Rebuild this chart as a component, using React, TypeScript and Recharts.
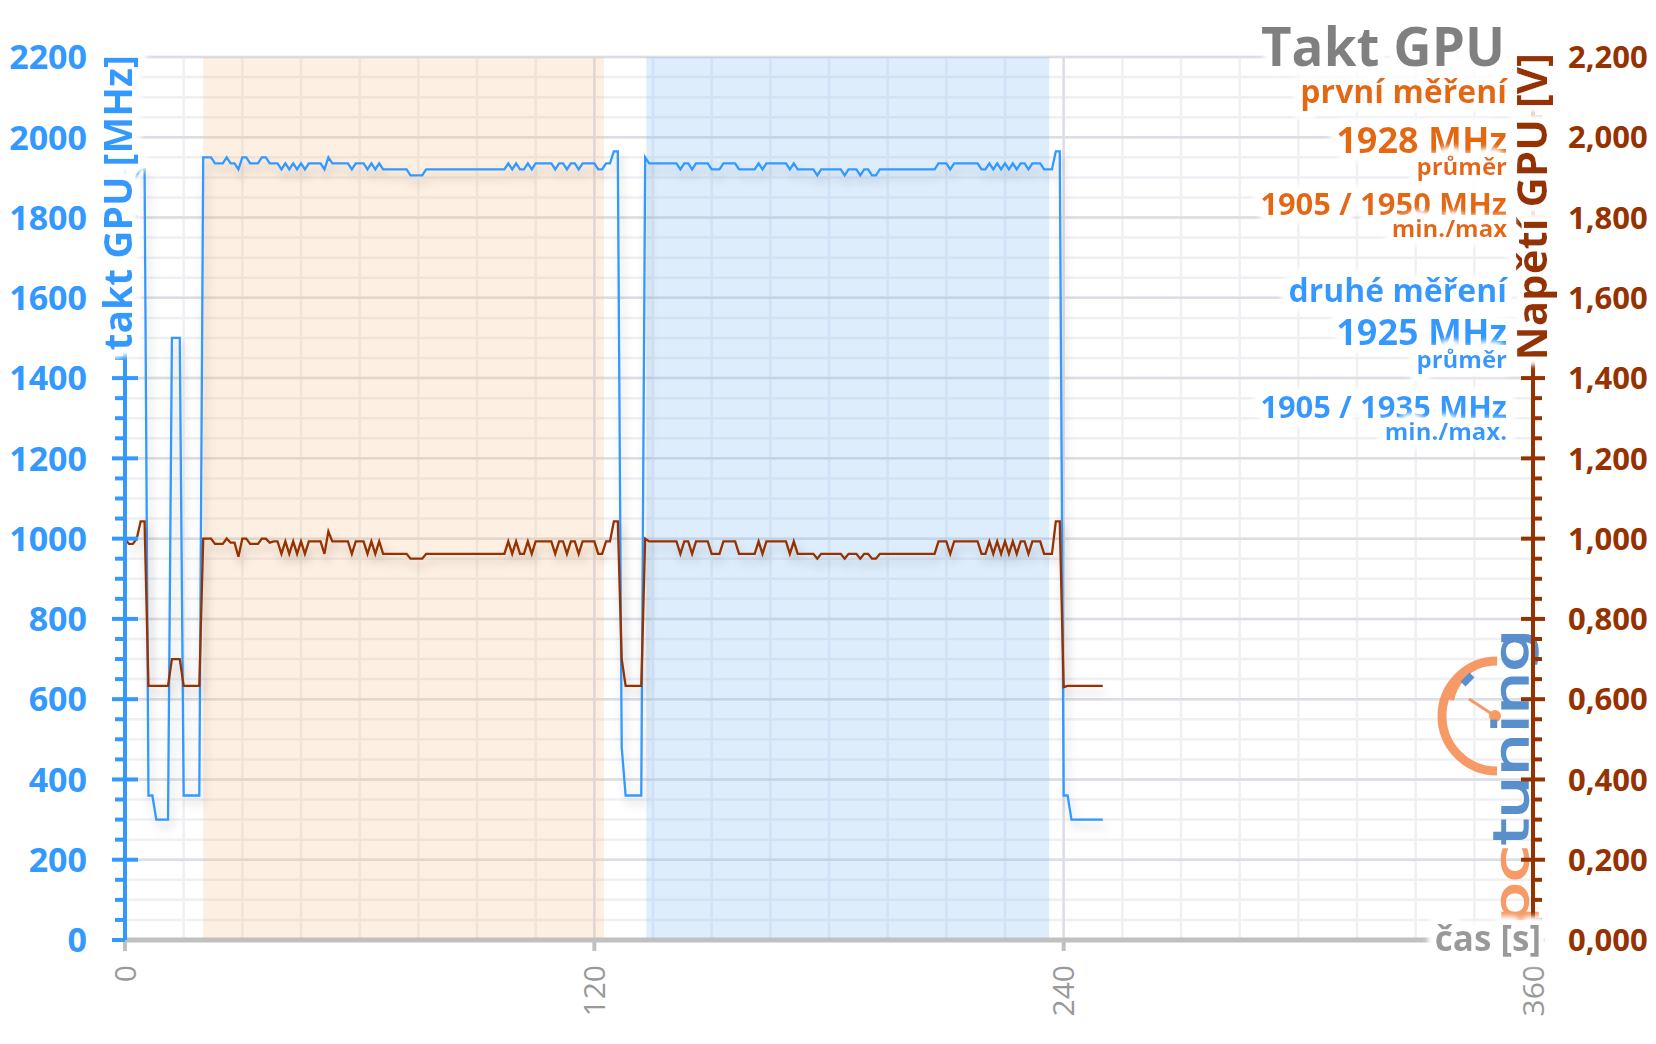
import React from 'react';
import { LineChart, Line, XAxis, YAxis, CartesianGrid, ReferenceArea } from 'recharts';

// ---------- data ----------
// GPU clock [MHz], one sample per second
const clockMHz: number[] = [
  1905, 1875, 1875, 1905, 1920, 1920, 360, 360, 300, 300,
  300, 300, 1500, 1500, 1500, 360, 360, 360, 360, 360,
  1950, 1950, 1950, 1935, 1935, 1935, 1950, 1935, 1935, 1920,
  1950, 1950, 1935, 1935, 1935, 1950, 1950, 1935, 1935, 1935,
  1920, 1935, 1920, 1935, 1920, 1935, 1920, 1935, 1935, 1935,
  1935, 1920, 1950, 1935, 1935, 1935, 1935, 1935, 1920, 1935,
  1935, 1935, 1920, 1935, 1920, 1935, 1920, 1920, 1920, 1920,
  1920, 1920, 1920, 1905, 1905, 1905, 1905, 1920, 1920, 1920,
  1920, 1920, 1920, 1920, 1920, 1920, 1920, 1920, 1920, 1920,
  1920, 1920, 1920, 1920, 1920, 1920, 1920, 1920, 1935, 1920,
  1935, 1920, 1920, 1935, 1920, 1935, 1935, 1935, 1935, 1935,
  1920, 1935, 1935, 1920, 1935, 1935, 1920, 1935, 1935, 1935,
  1935, 1920, 1920, 1935, 1935, 1965, 1965, 480, 360, 360,
  360, 360, 360, 1950, 1935, 1935, 1935, 1935, 1935, 1935,
  1935, 1935, 1920, 1935, 1935, 1920, 1935, 1935, 1935, 1935,
  1920, 1920, 1920, 1935, 1935, 1935, 1935, 1920, 1920, 1920,
  1920, 1920, 1935, 1920, 1935, 1935, 1935, 1935, 1935, 1935,
  1920, 1935, 1920, 1920, 1920, 1920, 1920, 1905, 1920, 1920,
  1920, 1920, 1920, 1920, 1905, 1920, 1920, 1920, 1905, 1920,
  1920, 1905, 1905, 1920, 1920, 1920, 1920, 1920, 1920, 1920,
  1920, 1920, 1920, 1920, 1920, 1920, 1920, 1920, 1935, 1935,
  1935, 1920, 1935, 1935, 1935, 1935, 1935, 1935, 1935, 1920,
  1920, 1935, 1920, 1935, 1920, 1935, 1920, 1935, 1920, 1935,
  1935, 1920, 1935, 1935, 1935, 1920, 1920, 1920, 1965, 1965,
  360, 360, 300, 300, 300, 300, 300, 300, 300, 300,
  300,
];

// GPU voltage [V], one sample per second
const voltageV: number[] = [
  1.000, 0.987, 0.987, 1.000, 1.043, 1.043, 0.633, 0.633, 0.633, 0.633,
  0.633, 0.633, 0.700, 0.700, 0.700, 0.633, 0.633, 0.633, 0.633, 0.633,
  1.000, 1.000, 1.000, 0.987, 0.987, 0.987, 1.000, 0.990, 0.990, 0.955,
  1.000, 1.000, 0.987, 0.987, 0.987, 1.000, 1.000, 0.990, 0.993, 0.993,
  0.962, 0.993, 0.962, 0.993, 0.962, 0.993, 0.962, 0.993, 0.993, 0.993,
  0.993, 0.962, 1.018, 0.993, 0.993, 0.993, 0.993, 0.993, 0.962, 0.993,
  0.993, 0.993, 0.962, 0.993, 0.962, 0.993, 0.962, 0.962, 0.962, 0.962,
  0.962, 0.962, 0.962, 0.950, 0.950, 0.950, 0.950, 0.962, 0.962, 0.962,
  0.962, 0.962, 0.962, 0.962, 0.962, 0.962, 0.962, 0.962, 0.962, 0.962,
  0.962, 0.962, 0.962, 0.962, 0.962, 0.962, 0.962, 0.962, 0.993, 0.962,
  0.993, 0.962, 0.962, 0.993, 0.962, 0.993, 0.993, 0.993, 0.993, 0.993,
  0.962, 0.993, 0.993, 0.962, 0.993, 0.993, 0.962, 0.993, 0.993, 0.993,
  0.993, 0.962, 0.962, 0.993, 0.993, 1.043, 1.043, 0.700, 0.633, 0.633,
  0.633, 0.633, 0.633, 1.000, 0.993, 0.993, 0.993, 0.993, 0.993, 0.993,
  0.993, 0.993, 0.962, 0.993, 0.993, 0.962, 0.993, 0.993, 0.993, 0.993,
  0.962, 0.962, 0.962, 0.993, 0.993, 0.993, 0.993, 0.962, 0.962, 0.962,
  0.962, 0.962, 0.993, 0.962, 0.993, 0.993, 0.993, 0.993, 0.993, 0.993,
  0.962, 0.993, 0.962, 0.962, 0.962, 0.962, 0.962, 0.950, 0.962, 0.962,
  0.962, 0.962, 0.962, 0.962, 0.950, 0.962, 0.962, 0.962, 0.950, 0.962,
  0.962, 0.950, 0.950, 0.962, 0.962, 0.962, 0.962, 0.962, 0.962, 0.962,
  0.962, 0.962, 0.962, 0.962, 0.962, 0.962, 0.962, 0.962, 0.993, 0.993,
  0.993, 0.962, 0.993, 0.993, 0.993, 0.993, 0.993, 0.993, 0.993, 0.962,
  0.962, 0.993, 0.962, 0.993, 0.962, 0.993, 0.962, 0.993, 0.962, 0.993,
  0.993, 0.962, 0.993, 0.993, 0.993, 0.962, 0.962, 0.962, 1.043, 1.043,
  0.630, 0.633, 0.633, 0.633, 0.633, 0.633, 0.633, 0.633, 0.633, 0.633,
  0.633,
];

// time [s] of each sample (1 s sampling)
const seconds: number[] = clockMHz.map((_, i) => i);

// measurement windows [s]
const firstRun: [number, number] = [20, 122.5];
const secondRun: [number, number] = [133.3, 236.3];

// axes
const timeTicks = [0, 15, 30, 45, 60, 75, 90, 105, 120, 135, 150, 165, 180, 195, 210, 225, 240, 255, 270, 285, 300, 315, 330, 345, 360];
const timeMajor = [0, 120, 240, 360];
const clockTicks = [0, 50, 100, 150, 200, 250, 300, 350, 400, 450, 500, 550, 600, 650, 700, 750, 800, 850, 900, 950, 1000, 1050, 1100, 1150, 1200, 1250, 1300, 1350, 1400, 1450, 1500, 1550, 1600, 1650, 1700, 1750, 1800, 1850, 1900, 1950, 2000, 2050, 2100, 2150, 2200];
const clockMajor = [0, 200, 400, 600, 800, 1000, 1200, 1400, 1600, 1800, 2000, 2200];
const voltTicks = clockTicks.map((c) => c / 1000);
const voltMajor = clockMajor.map((c) => c / 1000);

const data = seconds.map((t, i) => ({ t, mhz: clockMHz[i], v: voltageV[i] }));

// ---------- style ----------
const FONT = "'Open Sans', 'DejaVu Sans', sans-serif";
const BLUE = '#3399ff';
const BROWN = '#963200';
const ORANGE = '#e5680b';
const GREY = '#999999';

const isMajorClock = (v: number) => clockMajor.includes(v);
const isMajorVolt = (v: number) => voltMajor.some((m) => Math.abs(m - v) < 1e-6);

const LeftTick = (props: any) => {
  const { x, y, payload } = props;
  const v = payload.value as number;
  const major = isMajorClock(v);
  return (
    <g>
      <line x1={x - (major ? 13 : 10)} x2={x + (major && v !== 0 ? 13 : 0)} y1={y} y2={y} stroke={BLUE} strokeWidth={4} />
      {major && (
        <text x={x - 38} y={y} dy="0.36em" textAnchor="end" fill={BLUE} fontSize={34} fontWeight="bold" fontFamily={FONT}>
          {v}
        </text>
      )}
    </g>
  );
};

const RightTick = (props: any) => {
  const { x, y, payload } = props;
  const v = payload.value as number;
  const major = isMajorVolt(v);
  return (
    <g>
      <line x1={x - (major && v !== 0 ? 12 : 0)} x2={x + (major ? 12 : 9)} y1={y} y2={y} stroke={BROWN} strokeWidth={4} />
      {major && (
        <text x={x + 35} y={y} dy="0.36em" textAnchor="start" fill={BROWN} fontSize={31} fontWeight="bold" fontFamily={FONT}>
          {v.toFixed(3).replace('.', ',')}
        </text>
      )}
    </g>
  );
};

const BottomTick = (props: any) => {
  const { x, y, payload } = props;
  const v = payload.value as number;
  if (!timeMajor.includes(v)) return <g />;
  const ty = y + 25;
  return (
    <g>
      <line x1={x} x2={x} y1={y} y2={y + 11} stroke="#c0c0c0" strokeWidth={4} />
      <text
        x={x}
        y={ty}
        dy="0.36em"
        transform={`rotate(-90, ${x}, ${ty})`}
        textAnchor="end"
        fill={GREY}
        fontSize={30}
        fontFamily={FONT}
      >
        {v}
      </text>
    </g>
  );
};

const Halo = ({ children, ...p }: any) => (
  <text {...p} filter="url(#halo)">
    {children}
  </text>
);

const Logo = () => (
  <g opacity={0.85}>
    <path d="M 1497 661 A 55 55 0 0 0 1497 771" fill="none" stroke="#f58a4e" strokeWidth={9} />
    <path d="M 1480 664 A 53 53 0 0 0 1451 700" fill="none" stroke="#f58a4e" strokeWidth={6} />
    <line x1={1463} y1={684} x2={1472} y2={675} stroke="#3d7dc4" strokeWidth={7} />
    <line x1={1469} y1={699} x2={1495} y2={716} stroke="#f58a4e" strokeWidth={3} />
    <circle cx={1495} cy={716} r={6} fill="#f58a4e" />
    <text
      transform="translate(1528, 925) rotate(-90)"
      fontFamily="'DejaVu Sans', sans-serif"
      fontSize={48}
      textLength={296}
      lengthAdjust="spacingAndGlyphs"
    >
      <tspan fill="#f58a4e" stroke="#f58a4e" strokeWidth={1.5}>pc</tspan>
      <tspan fill="#3d7dc4" stroke="#3d7dc4" strokeWidth={1.5}>tuning</tspan>
    </text>
  </g>
);

export default function App() {
  return (
    <div style={{ position: 'absolute', left: 0, top: 0, width: 1656, height: 1044, background: '#fff' }}>
      <LineChart
        width={1656}
        height={1044}
        data={data}
        margin={{ top: 57, right: 122, bottom: 103, left: 124 }}
      >
        <defs>
          <filter id="lineshadow" x="-5%" y="-10%" width="110%" height="130%">
            <feDropShadow dx="3" dy="7" stdDeviation="5" floodColor="#000" floodOpacity="0.2" />
          </filter>
        </defs>
        <CartesianGrid
          xAxisId="t"
          yAxisId="mhz"
          horizontalValues={clockTicks}
          verticalValues={timeTicks}
          stroke="#eff0f4"
          strokeWidth={2.5}
        />
        <CartesianGrid
          xAxisId="t"
          yAxisId="mhz"
          horizontalValues={clockMajor}
          verticalValues={[120, 240]}
          stroke="#dcdee5"
          strokeWidth={2.5}
        />
        <ReferenceArea xAxisId="t" yAxisId="mhz" x1={firstRun[0]} x2={firstRun[1]} y1={0} y2={2200} fill="#f7be82" fillOpacity={0.24} stroke="none" />
        <ReferenceArea xAxisId="t" yAxisId="mhz" x1={secondRun[0]} x2={secondRun[1]} y1={0} y2={2200} fill="#78b9f5" fillOpacity={0.25} stroke="none" />
        <Line
          xAxisId="t"
          yAxisId="mhz"
          type="linear"
          dataKey="mhz"
          stroke={BLUE}
          strokeWidth={2.3}
          dot={false}
          activeDot={false}
          isAnimationActive={false}
          filter="url(#lineshadow)"
        />
        <Line
          xAxisId="t"
          yAxisId="v"
          type="linear"
          dataKey="v"
          stroke={BROWN}
          strokeWidth={2.3}
          dot={false}
          activeDot={false}
          isAnimationActive={false}
          filter="url(#lineshadow)"
        />
        <Logo />
        <XAxis
          xAxisId="t"
          dataKey="t"
          type="number"
          domain={[0, 360]}
          ticks={timeTicks}
          interval={0}
          height={1}
          tickSize={0}
          tickMargin={0}
          tickLine={false}
          axisLine={{ stroke: '#c0c0c0', strokeWidth: 5 }}
          tick={<BottomTick />}
        />
        <YAxis
          yAxisId="mhz"
          orientation="left"
          type="number"
          domain={[0, 2200]}
          ticks={clockTicks}
          interval={0}
          width={1}
          tickSize={0}
          tickMargin={0}
          tickLine={false}
          axisLine={{ stroke: BLUE, strokeWidth: 4 }}
          tick={<LeftTick />}
        />
        <YAxis
          yAxisId="v"
          orientation="right"
          type="number"
          domain={[0, 2.2]}
          ticks={voltTicks}
          interval={0}
          width={1}
          tickSize={0}
          tickMargin={0}
          tickLine={false}
          axisLine={{ stroke: BROWN, strokeWidth: 4 }}
          tick={<RightTick />}
        />
      </LineChart>
      <svg width={1656} height={1044} style={{ position: 'absolute', left: 0, top: 0, pointerEvents: 'none' }}>
        <defs>
          <filter id="halo" x="-15%" y="-40%" width="130%" height="180%">
            <feMorphology in="SourceAlpha" operator="dilate" radius="6" result="dil" />
            <feGaussianBlur in="dil" stdDeviation="3" result="blur" />
            <feFlood floodColor="#ffffff" result="white" />
            <feComposite in="white" in2="blur" operator="in" result="glow" />
            <feMerge>
              <feMergeNode in="glow" />
              <feMergeNode in="glow" />
              <feMergeNode in="glow" />
              <feMergeNode in="SourceGraphic" />
            </feMerge>
          </filter>
        </defs>
        <g fontFamily={FONT} fontWeight="bold">
          <Halo x={132} y={55} transform="rotate(-90, 132, 55)" textAnchor="end" fill={BLUE} fontSize={39}>
            takt GPU [MHz]
          </Halo>
          <Halo x={1547} y={53} transform="rotate(-90, 1547, 53)" textAnchor="end" fill={BROWN} fontSize={42}>
            Napětí GPU [V]
          </Halo>
          <Halo x={1541} y={951} textAnchor="end" fill={GREY} fontSize={35}>
            čas [s]
          </Halo>
          <Halo x={1505} y={66} textAnchor="end" fill="#808080" fontSize={53}>Takt GPU</Halo>
          <Halo x={1507} y={103} textAnchor="end" fill={ORANGE} fontSize={32}>první měření</Halo>
          <Halo x={1507} y={153} textAnchor="end" fill={ORANGE} fontSize={36}>1928 MHz</Halo>
          <Halo x={1507} y={175} textAnchor="end" fill={ORANGE} fontSize={24}>průměr</Halo>
          <Halo x={1507} y={215} textAnchor="end" fill={ORANGE} fontSize={31}>1905 / 1950 MHz</Halo>
          <Halo x={1507} y={237} textAnchor="end" fill={ORANGE} fontSize={24}>min./max</Halo>
          <Halo x={1507} y={302} textAnchor="end" fill={BLUE} fontSize={32}>druhé měření</Halo>
          <Halo x={1507} y={345} textAnchor="end" fill={BLUE} fontSize={36}>1925 MHz</Halo>
          <Halo x={1507} y={368} textAnchor="end" fill={BLUE} fontSize={24}>průměr</Halo>
          <Halo x={1507} y={418} textAnchor="end" fill={BLUE} fontSize={31}>1905 / 1935 MHz</Halo>
          <Halo x={1507} y={440} textAnchor="end" fill={BLUE} fontSize={24}>min./max.</Halo>
        </g>
      </svg>
    </div>
  );
}
